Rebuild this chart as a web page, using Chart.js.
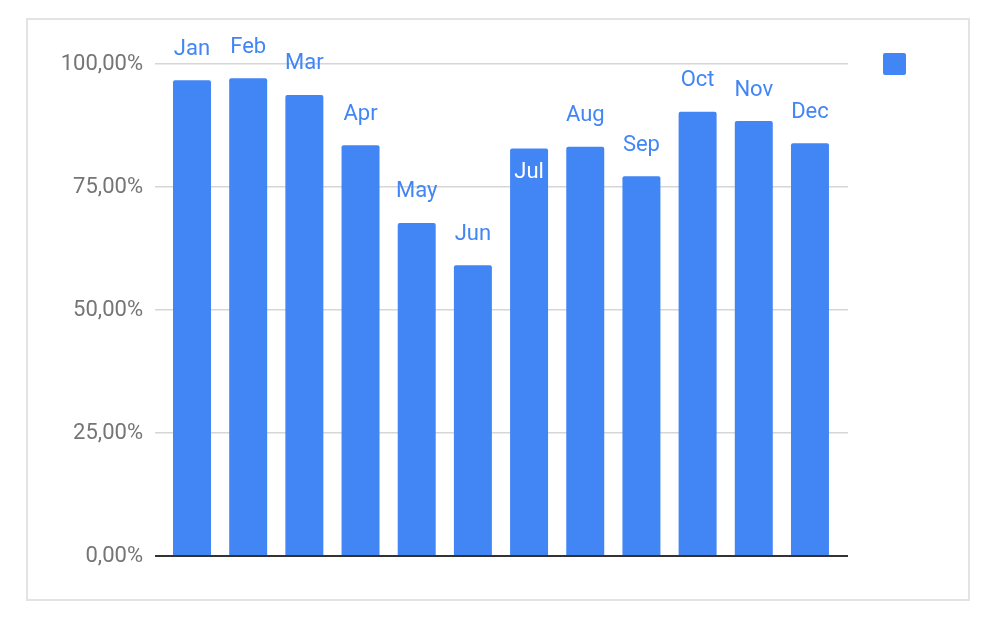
<!DOCTYPE html>
<html>
<head>
<meta charset="utf-8">
<script src="https://cdn.jsdelivr.net/npm/chart.js@4"></script>
<style>
html,body{margin:0;padding:0;background:#fff;}
#wrap{width:1000px;height:627px;position:relative;}
</style>
</head>
<body>
<div id="wrap"><canvas id="c" width="1000" height="627"></canvas></div>
<script>
const months = ['Jan','Feb','Mar','Apr','May','Jun','Jul','Aug','Sep','Oct','Nov','Dec'];
const values = [96.7, 97.1, 93.7, 83.5, 67.7, 59.1, 82.8, 83.2, 77.2, 90.3, 88.4, 83.9];
const insideLabels = ['Jul'];
const yTicks = [0, 25, 50, 75, 100];

const BLUE = '#4285F4';
const FONT = 'Roboto, "Noto Sans", sans-serif';

const frame = {
  id: 'frame',
  beforeDraw(chart) {
    const ctx = chart.ctx;
    ctx.save();
    ctx.fillStyle = '#fff';
    ctx.fillRect(0, 0, chart.width, chart.height);
    ctx.strokeStyle = '#e3e3e3';
    ctx.lineWidth = 2;
    ctx.strokeRect(27, 19, 942, 581);
    ctx.restore();
  },
  afterDatasetsDraw(chart) {
    const ctx = chart.ctx;
    const meta = chart.getDatasetMeta(0);
    ctx.save();
    ctx.font = '22px ' + FONT;
    ctx.textAlign = 'center';
    ctx.textBaseline = 'middle';
    meta.data.forEach((bar, i) => {
      const name = months[i];
      if (insideLabels.includes(name)) {
        ctx.fillStyle = '#ffffff';
        ctx.fillText(name, bar.x, bar.y + 24);
      } else {
        ctx.fillStyle = BLUE;
        ctx.fillText(name, bar.x, bar.y - 31);
      }
    });
    // legend marker
    const ca = chart.chartArea;
    ctx.fillStyle = BLUE;
    const r = 2, x = ca.right + 35, y = ca.top - 11, w = 23, h = 22;
    ctx.beginPath();
    ctx.roundRect(x, y, w, h, r);
    ctx.fill();
    ctx.restore();
  }
};

new Chart(document.getElementById('c'), {
  type: 'bar',
  data: {
    datasets: [{
      label: '',
      data: values.map((v, i) => ({ x: i, y: v })),
      backgroundColor: BLUE,
      borderRadius: 2,
      borderSkipped: 'bottom',
      barPercentage: 0.676,
      categoryPercentage: 1
    }]
  },
  plugins: [frame],
  options: {
    responsive: false,
    animation: false,
    devicePixelRatio: 1,
    layout: { padding: { top: 64, bottom: 71, right: 152, left: 0 } },
    plugins: { legend: { display: false }, tooltip: { enabled: false } },
    scales: {
      x: {
        type: 'linear',
        display: false,
        offset: false,
        grid: { offset: false },
        min: -0.6586,
        max: 11.677
      },
      y: {
        min: 0,
        max: 100,
        afterFit(scale) { scale.width = 155; },
        afterBuildTicks(scale) { scale.ticks = yTicks.map(v => ({ value: v })); },
        border: { display: false },
        grid: {
          drawTicks: false,
          lineWidth: ctx => ctx.tick && ctx.tick.value === 0 ? 2 : 1.5,
          color: ctx => ctx.tick && ctx.tick.value === 0 ? '#333333' : '#d6d6d6'
        },
        ticks: {
          padding: 12,
          color: '#757575',
          font: { family: FONT, size: 22 },
          callback: v => v.toFixed(2).replace('.', ',') + '%'
        }
      }
    }
  }
});
</script>
</body>
</html>
